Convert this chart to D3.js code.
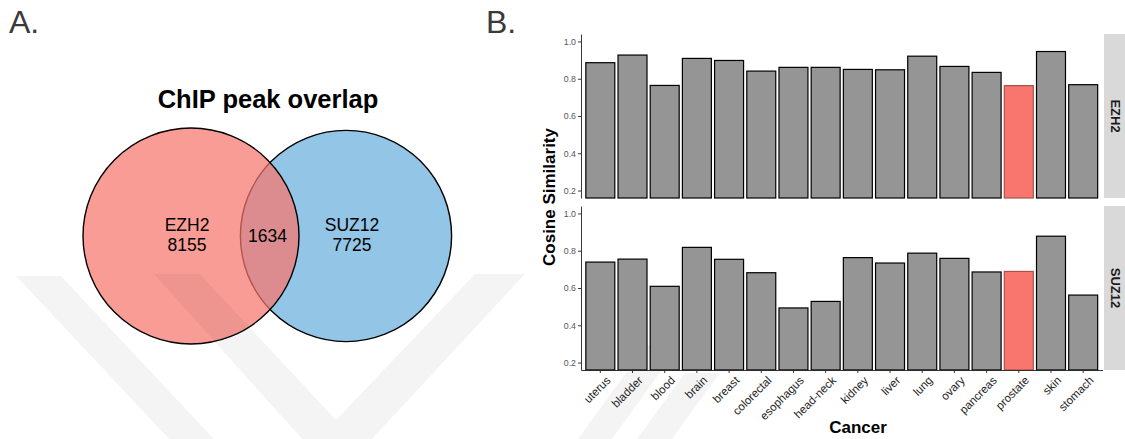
<!DOCTYPE html>
<html>
<head>
<meta charset="utf-8">
<script src="https://d3js.org/d3.v7.min.js"></script>
<style>
  body { margin: 0; background: #fff; }
  svg { display: block; font-family: "Liberation Sans", Arial, Helvetica, sans-serif; }
  .panel-label { font-size: 32px; fill: #3a3a3a; }
  .venn-title { font-size: 25.5px; font-weight: bold; fill: #000; }
  .venn-text { font-size: 17.5px; fill: #000; }
  .axis path, .axis line { stroke: #222; stroke-width: 0.9px; }
  .axis--y text { font-size: 8.8px; fill: #555; }
  .axis--x text { font-size: 11.5px; fill: #222; }
  .bar { stroke: #000; stroke-width: 1.2px; }
  .strip-text { font-size: 13px; font-weight: bold; fill: #1a1a1a; }
  .axis-title { font-size: 17px; font-weight: bold; fill: #000; }
  .wm path { fill: #000; fill-opacity: 0.045; pointer-events: none; }
</style>
</head>
<body>
<svg id="fig" width="1125" height="439"></svg>
<script>
  // Venn counts
  var vennNames = ["EZH2", "SUZ12"];
  var vennUnique = [8155, 7725];
  var vennShared = 1634;

  // cosine similarity per cancer, one array per facet
  var cancers = ["uterus", "bladder", "blood", "brain", "breast", "colorectal", "esophagus",
    "head-neck", "kidney", "liver", "lung", "ovary", "pancreas", "prostate", "skin", "stomach"];
  var ezh2Sim = [0.886, 0.927, 0.764, 0.909, 0.898, 0.841, 0.861, 0.861, 0.850, 0.848,
    0.921, 0.866, 0.834, 0.763, 0.946, 0.768];
  var suz12Sim = [0.739, 0.755, 0.609, 0.818, 0.754, 0.682, 0.493, 0.528, 0.763, 0.734,
    0.787, 0.759, 0.686, 0.689, 0.878, 0.562];
  var facets = ["EZH2", "SUZ12"];
  var yTicks = [0.2, 0.4, 0.6, 0.8, 1.0];
  var highlight = "prostate";

  var svg = d3.select("#fig");

  function drawShapes(list) {
    svg.append("g").attr("class", "wm")
      .selectAll("path").data(list).enter().append("path")
      .attr("d", function(d) { return "M" + d.join("L") + "Z"; });
  }

  // watermark stripes behind panel B
  drawShapes([
    [[578, 439], [612, 439], [680, 345], [646, 345]],
    [[637, 439], [672, 439], [720, 373], [685, 373]]
  ]);

  svg.append("text").attr("class", "panel-label").attr("x", 9).attr("y", 33).text("A.");
  svg.append("text").attr("class", "panel-label").attr("x", 486).attr("y", 33).text("B.");

  // ---- A. venn ----
  var totals = vennUnique.map(function(d) { return d + vennShared; });
  var r = d3.scaleSqrt().domain([0, d3.max(totals)]).range([0, 108]);
  var cy = 236;
  var cx = [191, 346];

  svg.append("text").attr("class", "venn-title")
    .attr("x", 268).attr("y", 108).attr("text-anchor", "middle")
    .text("ChIP peak overlap");

  svg.append("circle")
    .attr("cx", cx[1]).attr("cy", cy).attr("r", r(totals[1]))
    .style("fill", "#93c6e6").style("stroke", "#000").style("stroke-width", 1.4);
  svg.append("circle")
    .attr("cx", cx[0]).attr("cy", cy).attr("r", r(totals[0]))
    .style("fill", "#f8766d").style("fill-opacity", 0.72)
    .style("stroke", "#000").style("stroke-width", 1.4);

  var labX = [187, 352];
  vennNames.forEach(function(n, i) {
    var t = svg.append("text").attr("class", "venn-text").attr("text-anchor", "middle");
    t.append("tspan").attr("x", labX[i]).attr("y", 231).text(n);
    t.append("tspan").attr("x", labX[i]).attr("y", 251).text(vennUnique[i]);
  });
  svg.append("text").attr("class", "venn-text").attr("text-anchor", "middle")
    .attr("x", 267.5).attr("y", 242).text(vennShared);

  // ---- B. faceted bars ----
  var left = 581, right = 1102.5, panelH = 164;
  var tops = [34, 206];

  var x = d3.scaleBand()
    .domain(cancers)
    .range([left, right])
    .paddingInner(0.1)
    .paddingOuter(0.15);

  facets.forEach(function(f, i) {
    var vals = i === 0 ? ezh2Sim : suz12Sim;
    var top = tops[i];
    var y = d3.scaleLinear().domain([0.16, 1.04]).range([top + panelH, top]);

    var g = svg.append("g");
    g.selectAll("rect")
      .data(cancers)
      .enter().append("rect")
      .attr("class", "bar")
      .attr("x", function(d) { return x(d); })
      .attr("width", x.bandwidth())
      .attr("y", function(d, j) { return y(vals[j]); })
      .attr("height", function(d, j) { return y(0.16) - y(vals[j]); })
      .style("fill", function(d) { return d === highlight ? "#f8766d" : "#959595"; })
      .style("stroke", function(d) { return d === highlight ? "#a8524c" : "#000"; });

    svg.append("g")
      .attr("class", "axis axis--y")
      .attr("transform", "translate(" + left + ",0)")
      .call(d3.axisLeft(y).tickValues(yTicks).tickFormat(d3.format(".1f"))
        .tickSize(3).tickSizeOuter(0).tickPadding(2));

    // strip
    svg.append("rect")
      .attr("x", 1104).attr("y", top).attr("width", 24).attr("height", panelH)
      .style("fill", "#d9d9d9");
    svg.append("text").attr("class", "strip-text")
      .attr("transform", "translate(1115," + (top + panelH / 2) + ") rotate(90)")
      .attr("text-anchor", "middle").attr("dominant-baseline", "central")
      .text(f);

    if (i === 1) {
      var xAxis = svg.append("g")
        .attr("class", "axis axis--x")
        .attr("transform", "translate(0," + (top + panelH) + ")")
        .call(d3.axisBottom(x).tickSize(3).tickSizeOuter(0));
      xAxis.selectAll("text")
        .attr("x", 0).attr("y", 7.5).attr("dy", "0.71em")
        .attr("text-anchor", "end")
        .attr("transform", "rotate(-45)");
    }
  });

  svg.append("text").attr("class", "axis-title")
    .attr("x", 858).attr("y", 433).attr("text-anchor", "middle").text("Cancer");
  svg.append("text").attr("class", "axis-title")
    .attr("transform", "translate(555,197) rotate(-90)")
    .attr("text-anchor", "middle").text("Cosine Similarity");

  // watermark chevron over panel A
  drawShapes([
    [[16, 276], [61, 276], [214, 439], [169, 439]],
    [[154, 274], [200, 274], [336, 420], [475, 274], [525, 274], [372, 439], [302, 439]]
  ]);
</script>
</body>
</html>
